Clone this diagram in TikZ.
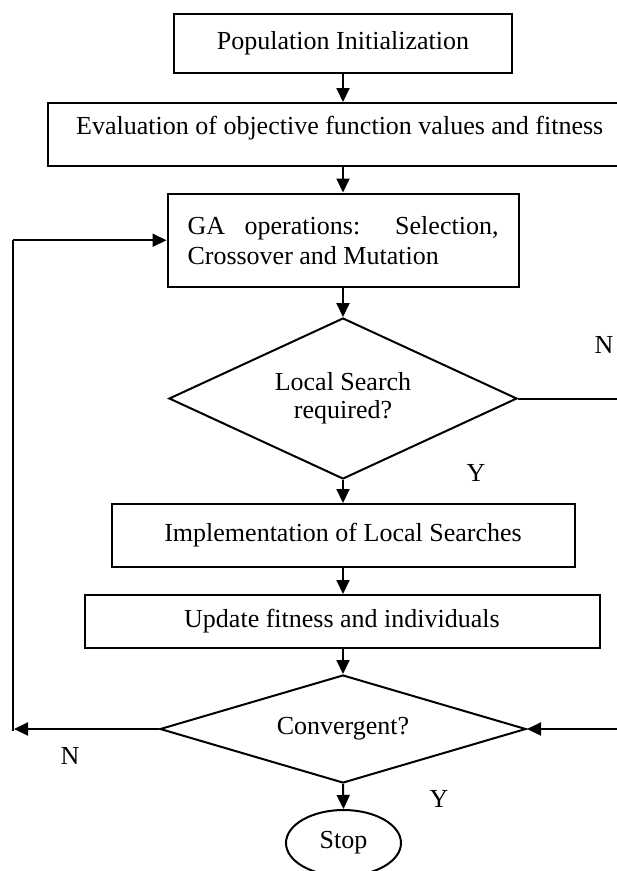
\documentclass[tikz,border=0pt]{standalone}
\usepackage{fontspec}
\setmainfont{Liberation Serif}
\usetikzlibrary{shapes.geometric,arrows.meta}
\begin{document}
\begin{tikzpicture}[x=1pt,y=-1pt, font=\fontsize{26}{30}\selectfont,
  arr/.style={line width=2pt, -{Triangle[length=14pt,width=13pt]}},
  plain/.style={line width=2pt},
  box/.style={draw, line width=2pt, rectangle, inner sep=0pt},
  dia/.style={draw, line width=2pt, diamond, inner sep=0pt, aspect=2},
  lbl/.style={inner sep=0pt}]
\clip (0,0) rectangle (617,871);
\fill[white] (0,0) rectangle (617,871);
% boxes
\node[box, minimum width=338pt, minimum height=59pt] (b1) at (343,43.5) {Population Initialization};
\node[box, minimum width=592pt, minimum height=63pt] (b2) at (344,134.5) {};
\node[lbl, anchor=west] (t2) at (76,128) {Evaluation of objective function values and fitness};
\node[box, minimum width=351pt, minimum height=93.5pt, text width=311pt, align=justify] (b3) at (343,240.25) {GA operations: Selection, Crossover and Mutation};
\node[dia, minimum width=348pt, minimum height=161pt, align=center, font=\fontsize{26}{28}\selectfont] (d1) at (343,398.5) {Local Search\\required?};
\node[box, minimum width=463pt, minimum height=63pt] (b4) at (343,535.5) {Implementation of Local Searches};
\node[box, minimum width=515pt, minimum height=53pt] (b5) at (342,621.5) {Update fitness and individuals};
\node[dia, minimum width=366pt, minimum height=108pt] (d2) at (343,729) {Convergent?};
\node[draw, line width=2pt, ellipse, inner sep=0pt, minimum width=115pt, minimum height=66pt] (stop) at (343.5,843) {Stop};
% connectors
\draw[arr] (b1.south) -- (b1.south |- b2.north);
\draw[arr] (b3.north |- b2.south) -- (b3.north);
\draw[arr] (b3.south) -- (d1.north);
\draw[arr] (d1.south) -- (b4.north);
\draw[arr] (b4.south) -- (b4.south |- b5.north);
\draw[arr] (d2.north |- b5.south) -- (d2.north);
\draw[arr] (d2.south) -- (stop.north);
% loop back (N)
\coordinate (cL) at (14,729);
\coordinate (cLb) at (13,731);
\coordinate (cT) at (13,240.25);
\draw[arr] (d2.west) -- (cL);
\draw[plain] (cLb) -- (cT);
\draw[arr] (cT) -- (b3.west);
% right branch (N from local search)
\coordinate (cR1) at (645,398.5);
\coordinate (cR2) at (645,729);
\draw[arr] (d1.east) -- (cR1) -- (cR2) -- (d2.east);
% labels
\node[lbl] (n1) at (604,345) {N};
\node[lbl] (y1) at (476,473) {Y};
\node[lbl] (n2) at (70,756) {N};
\node[lbl] (y2) at (439,799) {Y};
\end{tikzpicture}
\end{document}
